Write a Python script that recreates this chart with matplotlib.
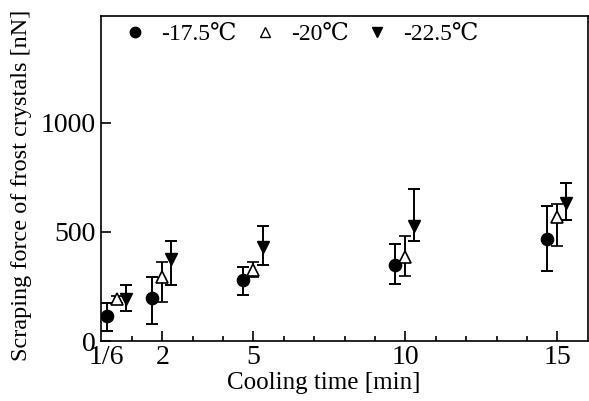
import matplotlib
matplotlib.use("Agg")
import matplotlib.pyplot as plt
from matplotlib.lines import Line2D
from matplotlib.ticker import FixedLocator

plt.rcParams['font.family'] = ['Liberation Serif', 'DejaVu Serif', 'Noto Sans CJK JP']

# ---- data ----
labels = ["-17.5\u2103", "-20\u2103", "-22.5\u2103"]

x_175 = [0.17, 1.67, 4.67, 9.67, 14.67]
y_175 = [116, 196, 281, 350, 466]
lo_175 = [46, 79, 210, 260, 321]
hi_175 = [172, 294, 341, 445, 621]

x_20 = [0.50, 2.00, 5.00, 10.00, 15.00]
y_20 = [193, 295, 326, 387, 570]
lo_20 = [172, 180, 295, 300, 436]
hi_20 = [205, 364, 362, 482, 627]

x_225 = [0.82, 2.30, 5.30, 10.30, 15.30]
y_225 = [193, 376, 433, 528, 632]
lo_225 = [139, 257, 347, 457, 556]
hi_225 = [255, 460, 526, 699, 725]

xtick_pos = [1/6, 2, 5, 10, 15]
xtick_labels = ["1/6", "2", "5", "10", "15"]
xminor_pos = [1, 3, 4, 6, 7, 8, 9, 11, 12, 13, 14]
ytick_pos = [0, 500, 1000]

fig = plt.figure(figsize=(5.89, 4.01), dpi=100)
ax = fig.add_axes([0.1723, 0.1496, 0.8255, 0.8104])

def err(y, lo, hi):
    return [[a - b for a, b in zip(y, lo)], [c - a for a, c in zip(y, hi)]]

ekw = dict(ecolor='black', elinewidth=1.4, capsize=4.3, capthick=1.4, linestyle='none')
ax.errorbar(x_175, y_175, yerr=err(y_175, lo_175, hi_175), fmt='o', ms=8.8,
            mfc='black', mec='black', **ekw)
ax.errorbar(x_20, y_20, yerr=err(y_20, lo_20, hi_20), fmt='^', ms=8.8,
            mfc='white', mec='black', mew=1.2, **ekw)
ax.errorbar(x_225, y_225, yerr=err(y_225, lo_225, hi_225), fmt='v', ms=9.2,
            mfc='black', mec='black', **ekw)

ax.set_xlim(0, 16)
ax.set_ylim(0, 1490)

ax.xaxis.set_major_locator(FixedLocator(xtick_pos))
ax.set_xticklabels(xtick_labels)
ax.xaxis.set_minor_locator(FixedLocator(xminor_pos))
ax.set_yticks(ytick_pos)

ax.tick_params(axis='both', which='major', direction='in', length=7.5, width=1.2,
               labelsize=20, top=False, right=False)
ax.tick_params(axis='x', which='major', pad=3)
ax.tick_params(axis='y', which='major', pad=4)
ax.tick_params(axis='x', which='minor', direction='in', length=3.8, width=1.2, top=False)
ax.xaxis.get_major_ticks()[0].tick1line.set_visible(False)

for s in ax.spines.values():
    s.set_linewidth(1.2)

ax.set_xlabel("Cooling time [min]", fontsize=18)
ax.xaxis.set_label_coords(0.458, -0.095)
ax.set_ylabel("Scraping force of frost crystals [nN]", fontsize=17.5)
ax.yaxis.set_label_coords(-0.143, 0.478)

handles = [
    Line2D([], [], marker='o', ls='none', color='black', ms=7.5),
    Line2D([], [], marker='^', ls='none', mfc='white', mec='black', mew=1.0, ms=6.5),
    Line2D([], [], marker='v', ls='none', color='black', ms=7.5),
]
ax.legend(handles, labels, loc='upper left', ncol=3, frameon=False, fontsize=17,
          bbox_to_anchor=(0.016, 1.02), handlelength=1.0, handletextpad=0.6,
          columnspacing=0.7, borderaxespad=0.2)

fig.savefig("out.png", dpi=100)
